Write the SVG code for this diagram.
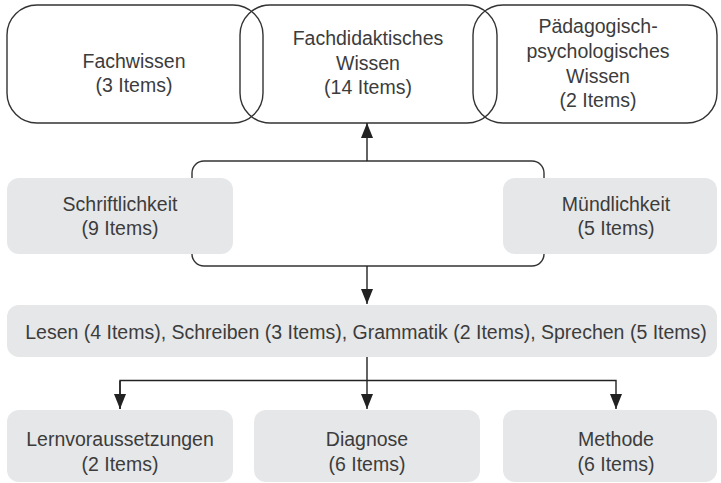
<svg xmlns="http://www.w3.org/2000/svg" width="721" height="483" viewBox="0 0 721 483">
<defs>
<style>
text{font-family:"Liberation Sans",Arial,sans-serif;font-size:19.5px;fill:#3c3c3c;text-anchor:middle}
.ol{fill:none;stroke:#333;stroke-width:1.4}
.gr{fill:#e6e7e8}
.ln{fill:none;stroke:#222;stroke-width:1.4}
</style>
<marker id="ah" markerWidth="15" markerHeight="12" refX="15" refY="6" orient="auto" markerUnits="userSpaceOnUse">
<path d="M0,0 L15,6 L0,12 Z" fill="#222"/>
</marker>
</defs>
<g id="bracket"><rect class="ol" x="192" y="161" width="352" height="105" rx="12"/></g>
<g id="fachwissen"><rect class="ol" x="7" y="5" width="256" height="118" rx="30"/>
<text x="134" y="68">Fachwissen</text><text x="134" y="92">(3 Items)</text></g>
<g id="fachdidaktik"><rect class="ol" x="240" y="5" width="257" height="118" rx="30"/>
<text x="368" y="45">Fachdidaktisches</text><text x="368" y="70">Wissen</text><text x="368" y="94">(14 Items)</text></g>
<g id="paedagogik"><rect class="ol" x="473" y="5" width="244" height="118" rx="30"/>
<text x="598" y="33">Pädagogisch-</text><text x="598" y="58">psychologisches</text><text x="598" y="83">Wissen</text><text x="598" y="107">(2 Items)</text></g>
<g id="schrift"><rect class="gr" x="7" y="178" width="226" height="76" rx="12"/>
<text x="120" y="211">Schriftlichkeit</text><text x="120" y="235">(9 Items)</text></g>
<g id="muendlich"><rect class="gr" x="503" y="178" width="214" height="76" rx="12"/>
<text x="616" y="211">Mündlichkeit</text><text x="616" y="235">(5 Items)</text></g>
<g id="bereiche"><rect class="gr" x="7" y="305" width="710" height="52" rx="12"/>
<text x="366" y="339">Lesen (4 Items), Schreiben (3 Items), Grammatik (2 Items), Sprechen (5 Items)</text></g>
<g id="lernvor"><rect class="gr" x="7" y="410" width="226" height="72" rx="12"/>
<text x="120" y="446">Lernvoraussetzungen</text><text x="120" y="471">(2 Items)</text></g>
<g id="diagnose"><rect class="gr" x="254" y="410" width="226" height="72" rx="12"/>
<text x="367" y="446">Diagnose</text><text x="367" y="471">(6 Items)</text></g>
<g id="methode"><rect class="gr" x="503" y="410" width="214" height="72" rx="12"/>
<text x="616" y="446">Methode</text><text x="616" y="471">(6 Items)</text></g>
<g id="connectors">
<path class="ln" d="M367,161 V123" marker-end="url(#ah)"/>
<path class="ln" d="M367,266 V304" marker-end="url(#ah)"/>
<path class="ln" d="M367,357 V409" marker-end="url(#ah)"/>
<path class="ln" d="M120,409 V380.5 H616 V409" marker-end="url(#ah)"/>
<path class="ln" d="M120,381 V409" marker-end="url(#ah)"/>
</g>
</svg>
